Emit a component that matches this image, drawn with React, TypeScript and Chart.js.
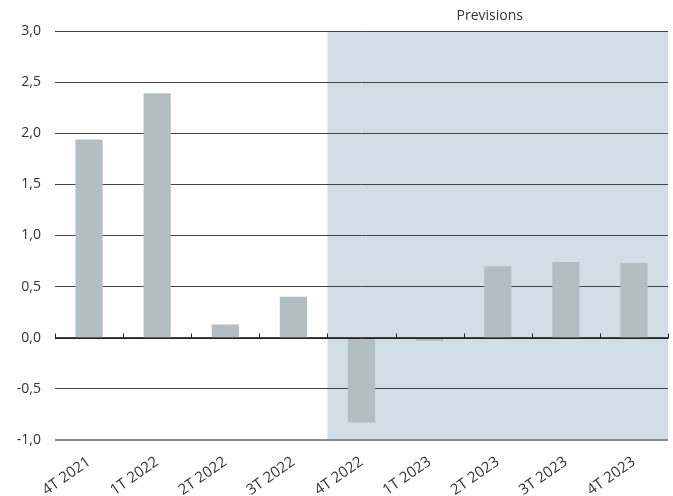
import React, { useEffect, useRef } from "react";
import { Chart, registerables } from "chart.js";

Chart.register(...registerables);

const categories = ["4T 2021", "1T 2022", "2T 2022", "3T 2022", "4T 2022", "1T 2023", "2T 2023", "3T 2023", "4T 2023"];
const values = [1.94, 2.39, 0.13, 0.4, -0.83, -0.03, 0.7, 0.74, 0.73];
const forecastStartIndex = 4;
const forecastLabel = "Previsions";

const FONT = "'Open Sans', 'Noto Sans', sans-serif";

const overlayPlugin = {
  id: "overlay",
  beforeDraw(chart: any) {
    const { ctx, chartArea, scales } = chart;
    const x = scales.x;
    const step = x.getPixelForValue(1) - x.getPixelForValue(0);
    const startX = x.getPixelForValue(forecastStartIndex) - step / 2;
    ctx.save();
    ctx.fillStyle = "#d2dee5";
    ctx.fillRect(startX, chartArea.top, chartArea.right - startX, chartArea.bottom - chartArea.top);
    ctx.fillStyle = "#333333";
    ctx.font = `14px ${FONT}`;
    ctx.textAlign = "center";
    ctx.textBaseline = "middle";
    ctx.fillText(forecastLabel, (startX + chartArea.right) / 2 - 8, 16);
    ctx.restore();
  },
  afterDatasetsDraw(chart: any) {
    const { ctx, chartArea, scales } = chart;
    const x = scales.x;
    const y0 = Math.round(scales.y.getPixelForValue(0)) + 0.5;
    const step = x.getPixelForValue(1) - x.getPixelForValue(0);
    ctx.save();
    ctx.strokeStyle = "#222222";
    ctx.lineWidth = 1;
    ctx.beginPath();
    ctx.moveTo(chartArea.left, y0);
    ctx.lineTo(chartArea.right, y0);
    for (let i = 0; i <= categories.length; i++) {
      const px = Math.round(x.getPixelForValue(0) - step / 2 + i * step) + 0.5;
      ctx.moveTo(px, y0);
      ctx.lineTo(px, y0 - 5);
    }
    ctx.stroke();
    ctx.restore();
  },
};

export default function App() {
  const ref = useRef<HTMLCanvasElement>(null);
  useEffect(() => {
    if (!ref.current) return;
    const chart = new Chart(ref.current, {
      type: "bar",
      data: {
        labels: categories,
        datasets: [
          {
            data: values,
            backgroundColor: "#b3bec2",
            barPercentage: 0.4,
            categoryPercentage: 1,
          },
        ],
      },
      options: {
        animation: false,
        responsive: false,
        maintainAspectRatio: false,
        layout: { padding: { top: 31, right: 5, left: 0, bottom: 0 } },
        plugins: { legend: { display: false }, tooltip: { enabled: false } },
        scales: {
          x: {
            grid: { display: false },
            border: { display: false },
            ticks: {
              minRotation: 35,
              maxRotation: 35,
              padding: 5,
              color: "#333333",
              font: { family: FONT, size: 15 },
            },
            afterFit: (s: any) => {
              s.height = 56;
            },
          },
          y: {
            min: -1,
            max: 3,
            border: { display: false },
            grid: {
              drawTicks: false,
              color: (c: any) => (c.tick && c.tick.value === -1 ? "#8a8a8a" : "#444444"),
              lineWidth: (c: any) => (c.tick && c.tick.value === -1 ? 2 : 1),
            },
            ticks: {
              stepSize: 0.5,
              padding: 14,
              color: "#333333",
              font: { family: FONT, size: 14 },
              callback: (v: any) => Number(v).toFixed(1).replace(".", ","),
            },
            afterFit: (s: any) => {
              s.width = 55;
            },
          },
        },
      },
      plugins: [overlayPlugin],
    });
    return () => chart.destroy();
  }, []);
  return (
    <div style={{ position: "fixed", left: 0, top: 0, width: 673, height: 496, background: "#fff" }}>
      <canvas ref={ref} width={673} height={496} style={{ width: 673, height: 496 }} />
    </div>
  );
}
